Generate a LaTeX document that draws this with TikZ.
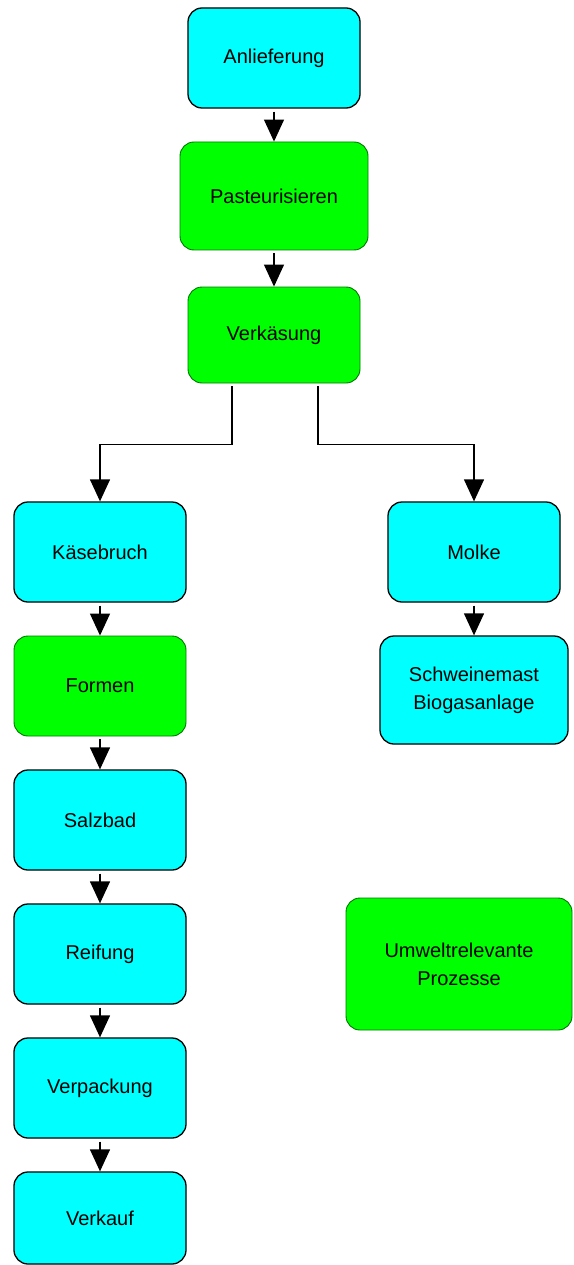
\documentclass[tikz,border=0pt]{standalone}
\usepackage{fontspec}
\setmainfont{Liberation Sans}
\usetikzlibrary{arrows.meta}

\definecolor{boxcyan}{RGB}{0,255,255}
\definecolor{boxgreen}{RGB}{0,255,0}
\definecolor{rimgreen}{RGB}{0,120,0}

\tikzset{
  cyanbox/.style={draw=black, line width=1.3pt, fill=boxcyan, rounded corners=14pt,
    minimum width=172pt, minimum height=100pt, inner sep=0pt, align=center,
    font=\fontsize{20}{28}\selectfont},
  greenbox/.style={cyanbox, draw=rimgreen, line width=0.9pt, fill=boxgreen},
  flow/.style={line width=1.3pt, -{Triangle[length=22pt,width=20pt]}, shorten <=3pt}
}

\begin{document}
\begin{tikzpicture}[x=1pt,y=-1pt]
			\clip (0,0) rectangle (573,1265);
			\useasboundingbox (0,0) rectangle (573,1265);

			% main line
			\node[cyanbox] (anlief) at (274,58) {Anlieferung};
			\node[greenbox, minimum width=188pt, minimum height=108pt] (pasteur) at (274,196) {Pasteurisieren};
			\node[greenbox, minimum height=96pt] (verk) at (274,335) {Verkäsung};

			% left branch
			\node[cyanbox] (bruch) at (100,552) {Käsebruch};
			\node[greenbox] (formen) at (100,686) {Formen};
			\node[cyanbox] (salz) at (100,820) {Salzbad};
			\node[cyanbox] (reif) at (100,954) {Reifung};
			\node[cyanbox] (verpack) at (100,1088) {Verpackung};
			\node[cyanbox, minimum height=92pt] (verkauf) at (100,1218) {Verkauf};

			% right branch
			\node[cyanbox] (molke) at (474,552) {Molke};
			\node[cyanbox, minimum width=188pt, minimum height=108pt] (mast) at (474,690) {Schweinemast\\Biogasanlage};

			% legend
			\node[greenbox, minimum width=226pt, minimum height=132pt] (umwelt) at (459,964) {Umweltrelevante\\Prozesse};

			\draw[flow] (anlief) -- (pasteur);
			\draw[flow] (pasteur) -- (verk);
			\draw[flow] ([xshift=-42pt]verk.south) -- ++(0,61) -| (bruch.north);
			\draw[flow] ([xshift=44pt]verk.south) -- ++(0,61) -| (molke.north);
			\draw[flow] (bruch) -- (formen);
			\draw[flow] (formen) -- (salz);
			\draw[flow] (salz) -- (reif);
			\draw[flow] (reif) -- (verpack);
			\draw[flow] (verpack) -- (verkauf);
			\draw[flow] (molke) -- (mast);
\end{tikzpicture}
\end{document}
